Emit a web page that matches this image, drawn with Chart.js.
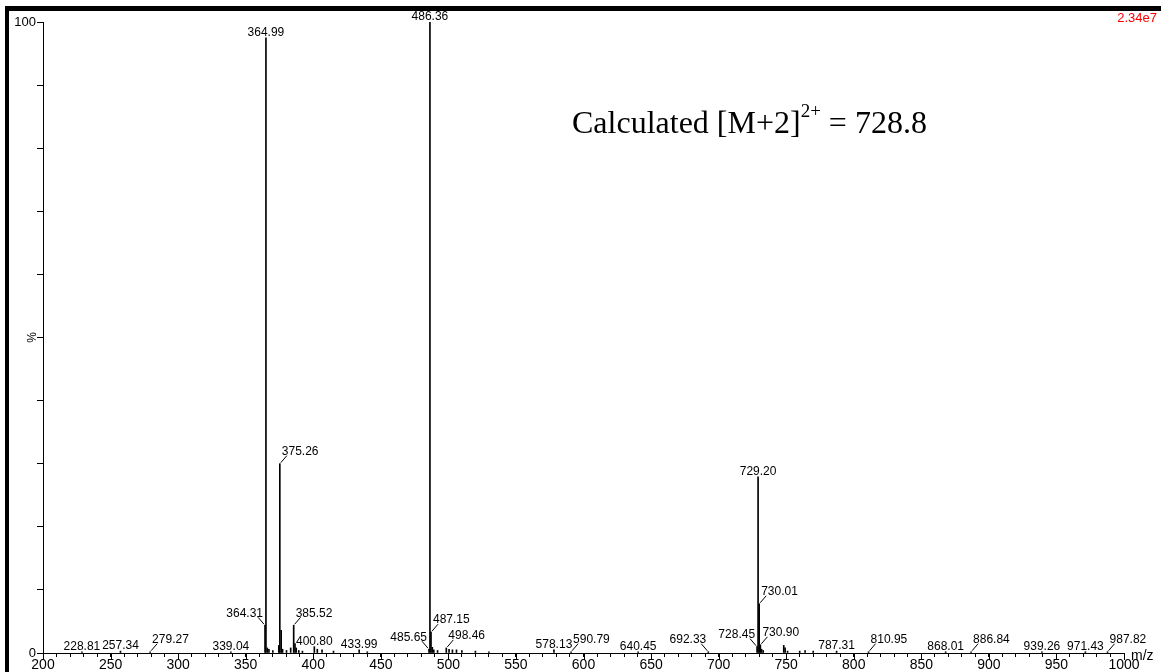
<!DOCTYPE html>
<html>
<head>
<meta charset="utf-8">
<script src="https://cdn.jsdelivr.net/npm/chart.js@4"></script>
<style>
  body { margin: 0; background: #fff; }
  canvas { display: block; }
</style>
</head>
<body>
<canvas id="spec" width="1161" height="672"></canvas>
<script>
// peak list (m/z, relative intensity %)
const peakMz = [
  228.81, 257.34, 279.27, 339.04, 364.31, 364.99, 366.0, 367.2, 370.1, 374.5,
  375.26, 376.27, 377.3, 380.2, 383.3, 385.52, 386.5, 387.4, 389.3, 392.0,
  400.80, 403.0, 406.5, 415.0, 433.99, 440.0, 485.65, 486.36, 487.15, 488.1,
  489.2, 492.0, 498.46, 500.5, 503.0, 506.0, 510.0, 520.0, 530.0, 578.13,
  590.79, 640.45, 692.33, 728.45, 729.20, 730.01, 730.90, 731.8, 733.0, 748.2,
  749.2, 751.0, 760.0, 764.0, 770.0, 787.31, 810.95, 868.01, 886.84, 939.26,
  971.43, 987.82
];
const peakPct = [
  0.2, 0.3, 0.2, 0.2, 4.4, 97.5, 0.8, 0.6, 0.4, 1.2,
  30.0, 3.6, 0.6, 0.4, 0.8, 4.4, 1.5, 0.8, 0.4, 0.3,
  1.0, 0.6, 0.5, 0.3, 0.5, 0.2, 0.6, 100, 3.3, 0.9,
  0.5, 0.4, 0.8, 0.6, 0.5, 0.5, 0.4, 0.3, 0.2, 0.5,
  0.2, 0.2, 0.2, 1.0, 27.9, 7.8, 1.3, 0.6, 0.4, 1.2,
  0.8, 0.3, 0.3, 0.4, 0.3, 0.3, 0.2, 0.2, 0.2, 0.2,
  0.2, 0.2
];
// peaks that carry a label
const labelMz = [
  228.81, 257.34, 279.27, 339.04, 364.31, 364.99, 375.26, 385.52, 400.80, 433.99,
  485.65, 486.36, 487.15, 498.46, 578.13, 590.79, 640.45, 692.33, 728.45, 729.20,
  730.01, 730.90, 787.31, 810.95, 868.01, 886.84, 939.26, 971.43, 987.82
];
const yTickLabels = [0, 100];
const xMajorStep = 50;

// label placement: 1 = to the right with leader, -1 = to the left with leader
const labelSide = {
  279.27: 1, 375.26: 1, 385.52: 1, 487.15: 1, 498.46: 1, 590.79: 1,
  730.01: 1, 730.90: 1, 810.95: 1, 886.84: 1, 987.82: 1,
  364.31: -1, 485.65: -1, 692.33: -1, 728.45: -1
};

const sansFont = "'Liberation Sans', Arial, sans-serif";
const narrowFont = "'Liberation Sans Narrow', 'Liberation Sans', Arial, sans-serif";
const serifFont = '"Liberation Serif", "Times New Roman", serif';

const decorations = {
  id: 'decorations',
  beforeDraw(chart) {
    const c = chart.ctx;
    c.save();
    c.fillStyle = '#fff';
    c.fillRect(0, 0, chart.width, chart.height);
    c.restore();
  },
  afterDatasetsDraw(chart) {
    const c = chart.ctx;
    const xs = chart.scales.x, ys = chart.scales.y;
    c.save();
    c.fillStyle = '#000';
    c.strokeStyle = '#000';
    c.lineWidth = 1;
    c.font = '12px ' + sansFont;
    c.textBaseline = 'middle';
    labelMz.forEach(m => {
      const i = peakMz.indexOf(m);
      const px = xs.getPixelForValue(m);
      const top = ys.getPixelForValue(peakPct[i]);
      const side = labelSide[m] || 0;
      const txt = m.toFixed(2);
      if (side === 0) {
        c.textAlign = 'center';
        c.fillText(txt, px, top - 5);
      } else {
        c.beginPath();
        c.moveTo(px + side * 1, top - 1);
        c.lineTo(px + side * 7, top - 8);
        c.stroke();
        c.textAlign = side > 0 ? 'left' : 'right';
        c.fillText(txt, px + side * 2, top - 12);
      }
    });
    c.restore();
  },
  afterDraw(chart) {
    const c = chart.ctx;
    const xs = chart.scales.x, ys = chart.scales.y;
    c.save();
    // longer major ticks on m/z axis
    c.strokeStyle = '#000';
    c.lineWidth = 1;
    for (let v = xs.min; v <= xs.max; v += xMajorStep) {
      const px = Math.round(xs.getPixelForValue(v)) + 0.5;
      c.beginPath();
      c.moveTo(px, ys.bottom);
      c.lineTo(px, ys.bottom + 7);
      c.stroke();
    }
    c.fillStyle = '#000';
    c.font = '14px ' + narrowFont;
    c.textAlign = 'left';
    c.textBaseline = 'middle';
    c.fillText('m/z', xs.right + 7, ys.bottom + 3);

    // % axis title
    c.save();
    c.translate(33, (ys.top + ys.bottom) / 2);
    c.rotate(-Math.PI / 2);
    c.textAlign = 'center';
    c.font = '12px ' + sansFont;
    c.fillText('%', 0, 0);
    c.restore();

    // intensity scale
    c.fillStyle = '#ff0000';
    c.font = '13px ' + sansFont;
    c.textAlign = 'right';
    c.fillText('2.34e7', 1157, 18);

    // annotation
    c.fillStyle = '#000';
    c.textAlign = 'left';
    c.textBaseline = 'alphabetic';
    let x = 572;
    const base = 133;
    c.font = '32px ' + serifFont;
    const a = 'Calculated [M+2]';
    c.fillText(a, x, base);
    x += c.measureText(a).width;
    c.font = '19px ' + serifFont;
    c.fillText('2+', x, base - 16);
    x += c.measureText('2+').width;
    c.font = '32px ' + serifFont;
    c.fillText(' = 728.8', x, base);

    // frame bars
    c.fillStyle = '#000';
    c.fillRect(5, 6, chart.width - 5, 5);
    c.fillRect(5, 6, 4, chart.height - 6);
    c.restore();
  }
};

new Chart(document.getElementById('spec').getContext('2d'), {
  type: 'bar',
  data: {
    datasets: [{
      data: peakMz.map((m, i) => ({ x: m, y: peakPct[i] })),
      backgroundColor: '#000',
      borderWidth: 0,
      barThickness: 1
    }]
  },
  options: {
    responsive: false,
    animation: false,
    events: [],
    layout: { padding: { left: 0, right: 37, top: 22, bottom: 0 } },
    plugins: { legend: { display: false }, tooltip: { enabled: false } },
    scales: {
      x: {
        type: 'linear',
        min: 200,
        max: 1000,
        offset: false,
        afterFit(s) { s.height = 19; },
        border: { color: '#000', width: 1 },
        grid: { drawOnChartArea: false, offset: false, tickLength: 4, color: '#000' },
        ticks: {
          stepSize: 10,
          autoSkip: false,
          maxRotation: 0,
          padding: 0,
          color: '#000',
          font: { family: narrowFont, size: 14 },
          callback: v => (v % xMajorStep === 0 ? String(v) : '')
        }
      },
      y: {
        min: 0,
        max: 100,
        afterFit(s) { s.width = 43; },
        border: { color: '#000', width: 1 },
        grid: { drawOnChartArea: false, tickLength: 6, color: '#000' },
        ticks: {
          stepSize: 10,
          autoSkip: false,
          padding: 1,
          color: '#000',
          font: { family: narrowFont, size: 13 },
          callback: v => (yTickLabels.includes(v) ? String(v) : '')
        }
      }
    }
  },
  plugins: [decorations]
});
</script>
</body>
</html>
